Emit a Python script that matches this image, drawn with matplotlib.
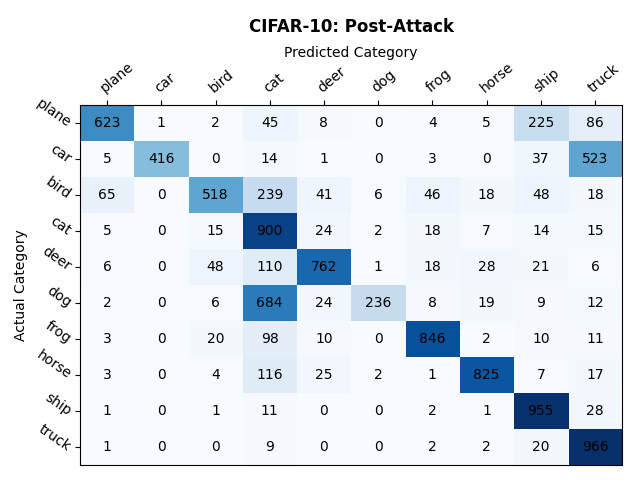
import numpy as np
import matplotlib
matplotlib.use("Agg")
import matplotlib.pyplot as plt

categories = ["plane", "car", "bird", "cat", "deer", "dog", "frog", "horse", "ship", "truck"]

row_plane = [623, 1, 2, 45, 8, 0, 4, 5, 225, 86]
row_car = [5, 416, 0, 14, 1, 0, 3, 0, 37, 523]
row_bird = [65, 0, 518, 239, 41, 6, 46, 18, 48, 18]
row_cat = [5, 0, 15, 900, 24, 2, 18, 7, 14, 15]
row_deer = [6, 0, 48, 110, 762, 1, 18, 28, 21, 6]
row_dog = [2, 0, 6, 684, 24, 236, 8, 19, 9, 12]
row_frog = [3, 0, 20, 98, 10, 0, 846, 2, 10, 11]
row_horse = [3, 0, 4, 116, 25, 2, 1, 825, 7, 17]
row_ship = [1, 0, 1, 11, 0, 0, 2, 1, 955, 28]
row_truck = [1, 0, 0, 9, 0, 0, 2, 2, 20, 966]

matrix = np.array([row_plane, row_car, row_bird, row_cat, row_deer,
                   row_dog, row_frog, row_horse, row_ship, row_truck])

fig = plt.figure(figsize=(6.4, 4.8), dpi=100)
ax = fig.add_axes([0.125, 0.031, 0.847, 0.75])
ax.imshow(matrix, cmap="Blues", aspect="auto", interpolation="nearest")

for i in range(matrix.shape[0]):
    for j in range(matrix.shape[1]):
        ax.text(j, i, str(matrix[i, j]), ha="center", va="center",
                color="black", fontsize=10)

ax.set_xticks(range(len(categories)))
ax.set_yticks(range(len(categories)))
ax.xaxis.tick_top()
ax.xaxis.set_label_position("top")
ax.set_xticklabels(categories, rotation=40, ha="left", rotation_mode="anchor")
ax.set_yticklabels(categories, rotation=-35, ha="right", rotation_mode="anchor")
ax.set_xlabel("Predicted Category", labelpad=2)
ax.set_ylabel("Actual Category")
ax.set_title("CIFAR-10: Post-Attack", fontweight="bold", fontsize=12, pad=10)

fig.savefig("out.png", dpi=100)
